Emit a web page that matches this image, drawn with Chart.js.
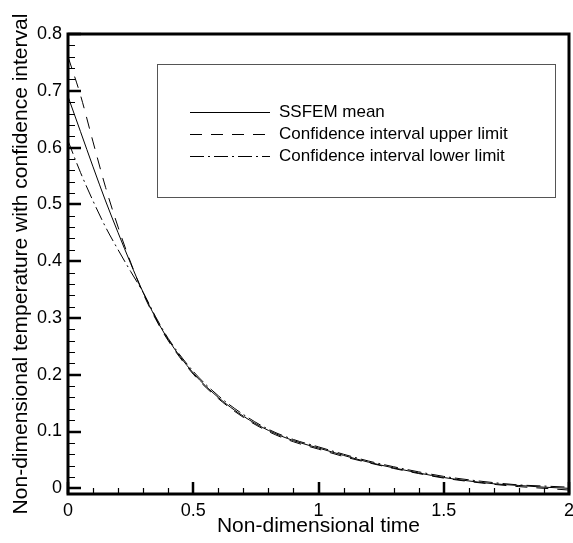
<!DOCTYPE html>
<html>
<head>
<meta charset="utf-8">
<script src="https://cdn.jsdelivr.net/npm/chart.js@4"></script>
<style>
  html, body { margin: 0; padding: 0; background: #fff; }
  #wrap { width: 573px; height: 543px; }
</style>
</head>
<body>
<div id="wrap"><canvas id="tempChart" width="573" height="543"></canvas></div>
<script>
// values
const timeValues  = [0, 0.05, 0.1, 0.15, 0.2, 0.25, 0.3, 0.35, 0.4, 0.5, 0.6, 0.7, 0.8, 0.9, 1.0, 1.1, 1.2, 1.3, 1.4, 1.5, 1.6, 1.7, 1.8, 1.9, 2.0];
const meanValues  = [0.690, 0.628, 0.566, 0.506, 0.450, 0.396, 0.345, 0.300, 0.262, 0.203, 0.160, 0.127, 0.102, 0.084, 0.071, 0.058, 0.046, 0.036, 0.027, 0.019, 0.013, 0.008, 0.005, 0.002, 0.000];
const upperValues = [0.760, 0.692, 0.610, 0.530, 0.460, 0.398, 0.343, 0.298, 0.260, 0.201, 0.158, 0.125, 0.100, 0.082, 0.069, 0.056, 0.045, 0.035, 0.026, 0.018, 0.012, 0.007, 0.003, 0.000, -0.003];
const lowerValues = [0.612, 0.556, 0.506, 0.460, 0.420, 0.382, 0.345, 0.302, 0.264, 0.206, 0.163, 0.130, 0.104, 0.086, 0.073, 0.060, 0.048, 0.038, 0.029, 0.021, 0.015, 0.010, 0.006, 0.004, 0.002];

const seriesLabels = ['SSFEM mean', 'Confidence interval upper limit', 'Confidence interval lower limit'];
const xTickValues = [0, 0.5, 1, 1.5, 2];
const yTickValues = [0, 0.1, 0.2, 0.3, 0.4, 0.5, 0.6, 0.7, 0.8];
const xTitle = 'Non-dimensional time';
const yTitle = 'Non-dimensional temperature with confidence interval';

const FONT = '"Liberation Sans", Arial, Helvetica, sans-serif';
Chart.defaults.font.family = FONT;
Chart.defaults.color = '#000';

function toPoints(values) {
    return timeValues.map((t, i) => ({ x: t, y: values[i] }));
}

// frame, inward ticks, axis titles and the boxed legend
const framePlugin = {
    id: 'framePlugin',
    afterDraw(chart) {
        const ctx = chart.ctx;
        const a = chart.chartArea;
        const xs = chart.scales.x;
        const ys = chart.scales.y;
        ctx.save();
        ctx.strokeStyle = '#000';

        // minor ticks
        ctx.lineWidth = 1.2;
        ctx.beginPath();
        for (let i = 0; i <= 20; i++) {
            if (i % 5 === 0) continue;
            const px = Math.round(xs.getPixelForValue(i * 0.1)) + 0.5;
            ctx.moveTo(px, a.bottom);
            ctx.lineTo(px, a.bottom - 6);
        }
        for (let i = 0; i <= 40; i++) {
            if (i % 5 === 0) continue;
            const py = Math.round(ys.getPixelForValue(i * 0.02)) + 0.5;
            ctx.moveTo(a.left, py);
            ctx.lineTo(a.left + 7, py);
        }
        ctx.stroke();

        // major ticks
        ctx.lineWidth = 2.5;
        ctx.beginPath();
        xTickValues.forEach(v => {
            const px = Math.round(xs.getPixelForValue(v));
            ctx.moveTo(px, a.bottom);
            ctx.lineTo(px, a.bottom - 12);
        });
        yTickValues.forEach(v => {
            const py = Math.round(ys.getPixelForValue(v));
            ctx.moveTo(a.left, py);
            ctx.lineTo(a.left + 13, py);
        });
        ctx.stroke();

        // frame
        ctx.lineWidth = 3;
        ctx.strokeRect(a.left, a.top, a.right - a.left, a.bottom - a.top);

        // axis titles
        ctx.fillStyle = '#000';
        ctx.font = '21px ' + FONT;
        ctx.textAlign = 'center';
        ctx.textBaseline = 'middle';
        ctx.fillText(xTitle, (a.left + a.right) / 2, 526);
        ctx.save();
        ctx.translate(21, (a.top + a.bottom) / 2);
        ctx.rotate(-Math.PI / 2);
        ctx.fillText(yTitle, 0, 0);
        ctx.restore();

        // legend box
        ctx.lineWidth = 1;
        ctx.strokeStyle = '#555';
        ctx.strokeRect(157.5, 64.5, 398, 133);
        ctx.font = '17px ' + FONT;
        ctx.textAlign = 'left';
        chart.data.datasets.forEach((ds, i) => {
            const y = 112 + i * 22;
            ctx.strokeStyle = '#000';
            ctx.lineWidth = 1;
            ctx.setLineDash(ds.borderDash || []);
            ctx.beginPath();
            ctx.moveTo(190, y + 0.5);
            ctx.lineTo(270, y + 0.5);
            ctx.stroke();
            ctx.setLineDash([]);
            ctx.fillText(ds.label, 279, y);
        });
        ctx.restore();
    }
};

new Chart(document.getElementById('tempChart').getContext('2d'), {
    type: 'line',
    data: {
        datasets: [
            { label: seriesLabels[0], data: toPoints(meanValues), borderDash: [] },
            { label: seriesLabels[1], data: toPoints(upperValues), borderDash: [12, 9] },
            { label: seriesLabels[2], data: toPoints(lowerValues), borderDash: [14, 4, 2, 4] }
        ].map(ds => Object.assign(ds, {
            borderColor: '#000',
            borderWidth: 1,
            pointRadius: 0,
            fill: false,
            cubicInterpolationMode: 'monotone'
        }))
    },
    options: {
        responsive: false,
        animation: false,
        devicePixelRatio: 1,
        layout: { padding: { top: 34, right: 4, left: 0, bottom: 0 } },
        plugins: {
            legend: { display: false },
            tooltip: { enabled: false }
        },
        scales: {
            x: {
                type: 'linear',
                min: 0,
                max: 2,
                afterBuildTicks: s => { s.ticks = xTickValues.map(v => ({ value: v })); },
                afterFit: s => { s.height = 49; s.paddingLeft = 0; s.paddingRight = 0; },
                grid: { display: false, drawTicks: false },
                border: { display: false },
                ticks: {
                    font: { size: 18 },
                    color: '#000',
                    padding: 6,
                    maxRotation: 0,
                    autoSkip: false,
                    callback: v => String(v)
                }
            },
            y: {
                type: 'linear',
                min: -0.01,
                max: 0.8,
                afterBuildTicks: s => { s.ticks = yTickValues.map(v => ({ value: v })); },
                afterFit: s => { s.width = 68; s.paddingTop = 0; s.paddingBottom = 0; },
                grid: { display: false, drawTicks: false },
                border: { display: false },
                ticks: {
                    font: { size: 18 },
                    color: '#000',
                    padding: 6,
                    autoSkip: false,
                    callback: v => String(v)
                }
            }
        }
    },
    plugins: [framePlugin]
});
</script>
</body>
</html>
